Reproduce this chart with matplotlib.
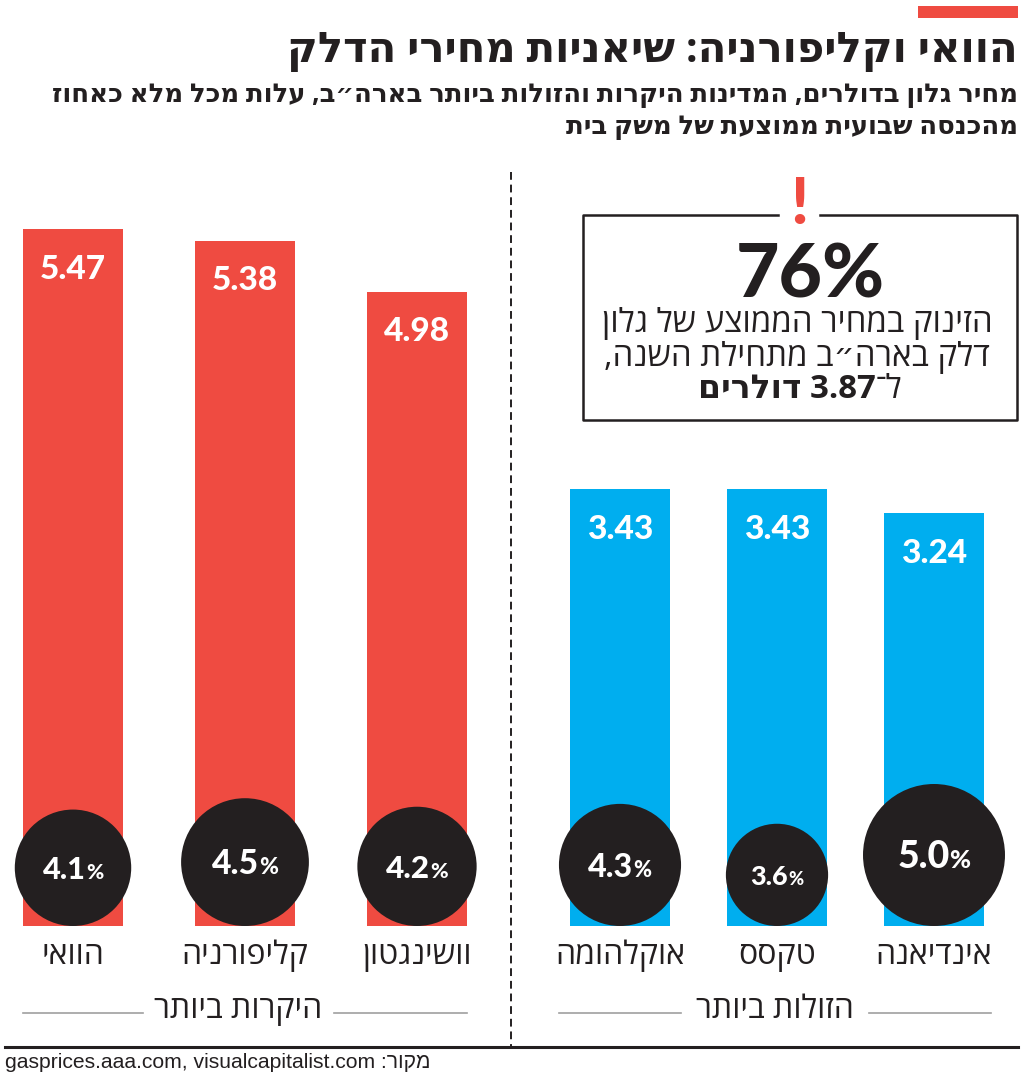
import re
import matplotlib
matplotlib.use('Agg')
import matplotlib.pyplot as plt

# fonts: hebrew needs a family with hebrew glyphs, numbers look better in Lato
HEB = ['Open Sans', 'DejaVu Sans']
NUM = ['Lato', 'DejaVu Sans']
SRC = ['Liberation Sans', 'DejaVu Sans']
INK = '#231f20'

title = 'הוואי וקליפורניה: שיאניות מחירי הדלק'
subtitle = ['מחיר גלון בדולרים, המדינות היקרות והזולות ביותר בארה״ב, עלות מכל מלא כאחוז',
            'מהכנסה שבועית ממוצעת של משק בית']
groups = ['היקרות ביותר', 'הזולות ביותר']
states = [['הוואי', 'קליפורניה', 'וושינגטון'], ['אוקלהומה', 'טקסס', 'אינדיאנה']]
prices = [[5.47, 5.38, 4.98], [3.43, 3.43, 3.24]]
share = [[4.1, 4.5, 4.2], [4.3, 3.6, 5.0]]
colors = ['#ef4b41', '#00aeef']
box_big = '76%'
box_lines = ['הזינוק במחיר הממוצע של גלון', 'דלק בארה״ב מתחילת השנה,']
box_last = ['ל־', '3.87 דולרים']
source = 'gasprices.aaa.com, visualcapitalist.com'
source_label = 'מקור:'


def rtl(s):
    # matplotlib has no bidi: flip hebrew runs, keep numbers left-to-right
    parts = re.split(r'([0-9][0-9.%]*)', s)
    return ''.join(p if re.match(r'[0-9]', p) else p[::-1] for p in reversed(parts))


W, H = 1024, 1079
fig = plt.figure(figsize=(W / 100, H / 100), dpi=100)
renderer = fig.canvas.get_renderer()

bg = fig.add_axes([0, 0, 1, 1])
bg.set_xlim(0, W)
bg.set_ylim(H, 0)
bg.axis('off')


def fit(t, width):
    w = t.get_window_extent(renderer).width
    t.set_fontsize(t.get_fontsize() * width / w)


def width_of(s, **kw):
    t = fig.text(0, 0, s, **kw)
    w = t.get_window_extent(renderer).width
    t.remove()
    return w


# header
bg.add_patch(plt.Rectangle((918, 6), 100, 12, color=colors[0], lw=0))
t = bg.text(1018, 52, rtl(title), ha='right', va='center', family=HEB,
            weight='bold', size=36, color=INK)
fit(t, 733)
for i, line in enumerate(subtitle):
    t = bg.text(1018, 94 + i * 32, rtl(line), ha='right', va='center', family=HEB,
                weight='bold', size=18, color=INK)
    if i == 0:
        fit(t, 968)
        sub_size = t.get_fontsize()
    else:
        t.set_fontsize(sub_size)

# separators
bg.plot([511, 511], [172, 1047], color=INK, lw=1.4, ls=(0, (4, 2.5)))
bg.plot([5, 1018], [1047, 1047], color=INK, lw=2.2)

# callout box
bg.plot([778, 583, 583, 1017, 1017, 820], [215, 215, 420, 420, 215, 215],
        color=INK, lw=1.8)
bg.text(799, 205, '!', ha='center', va='center', family=NUM, weight='black',
        size=46, color=colors[0])
bg.text(810, 276, box_big, ha='center', va='center', family=NUM,
        weight='black', size=54, color=INK)
for i, line in enumerate(box_lines):
    t = bg.text(797, 324 + i * 33, rtl(line), ha='center', va='center',
                family=HEB, size=18, color=INK)
    if i == 0:
        fit(t, 390)
        box_size = t.get_fontsize()
    else:
        t.set_fontsize(box_size)
w1 = width_of(rtl(box_last[0]), family=HEB, size=box_size)
w2 = width_of(rtl(box_last[1]), family=HEB, size=box_size, weight='bold')
x_right = 800 + (w1 + w2) / 2
bg.text(x_right, 390, rtl(box_last[0]), ha='right', va='center', family=HEB,
        size=box_size, color=INK)
bg.text(x_right - w1, 390, rtl(box_last[1]), ha='right', va='center',
        family=HEB, weight='bold', size=box_size, color=INK)

# bars
y0, ytop, ppu = 926, 172, 127.4
ax = fig.add_axes([0, (H - y0) / H, 1, (y0 - ytop) / H])
ax.set_xlim(0, W)
ax.set_ylim(0, (y0 - ytop) / ppu)
ax.axis('off')

starts, steps = [73, 620], [172, 157]
line_spans = [[(23, 143), (334, 467)], [(559, 681), (869, 991)]]
for g in range(2):
    xs = [starts[g] + k * steps[g] for k in range(3)]
    ax.bar(xs, prices[g], width=100, color=colors[g], lw=0)
    for x, v in zip(xs, prices[g]):
        ax.annotate(f'{v:.2f}', (x, v), xytext=(0, -40), textcoords='offset pixels',
                    ha='center', va='center', family=NUM, weight='black',
                    size=24, color='white')
    r_px = [14.2 * p for p in share[g]]
    ax.scatter(xs, [r / ppu for r in r_px], s=[(2 * r * 0.72) ** 2 for r in r_px],
               color=INK, lw=0, clip_on=False, zorder=3)
    for x, r, p in zip(xs, r_px, share[g]):
        fs = 0.38 * r
        num = f'{p:.1f}'
        wn = width_of(num, family=NUM, weight='black', size=fs)
        wp = width_of('%', family=NUM, weight='black', size=fs * 0.68)
        left = -(wn + wp) / 2
        ax.annotate(num, (x, r / ppu), xytext=(left, -fs * 0.5), textcoords='offset pixels',
                    ha='left', va='baseline', family=NUM, weight='black', size=fs,
                    color='white', zorder=4)
        ax.annotate('%', (x, r / ppu), xytext=(left + wn, -fs * 0.5),
                    textcoords='offset pixels', ha='left', va='baseline', family=NUM,
                    weight='black', size=fs * 0.68, color='white', zorder=4)
    for x, name in zip(xs, states[g]):
        bg.text(x, 955, rtl(name), ha='center', va='center', family=HEB,
                size=23, color=INK)
    gx = (line_spans[g][0][1] + line_spans[g][1][0]) / 2
    bg.text(gx, 1010, rtl(groups[g]), ha='center', va='center', family=HEB,
            size=23, color=INK)
    for a, b in line_spans[g]:
        bg.plot([a, b], [1013, 1013], color='#a0a0a0', lw=1.2)

t = bg.text(5, 1063, source + ' ' + rtl(source_label), ha='left', va='center',
            family=SRC, size=15, color=INK)
fit(t, 428)

fig.savefig('out.png', dpi=100)
